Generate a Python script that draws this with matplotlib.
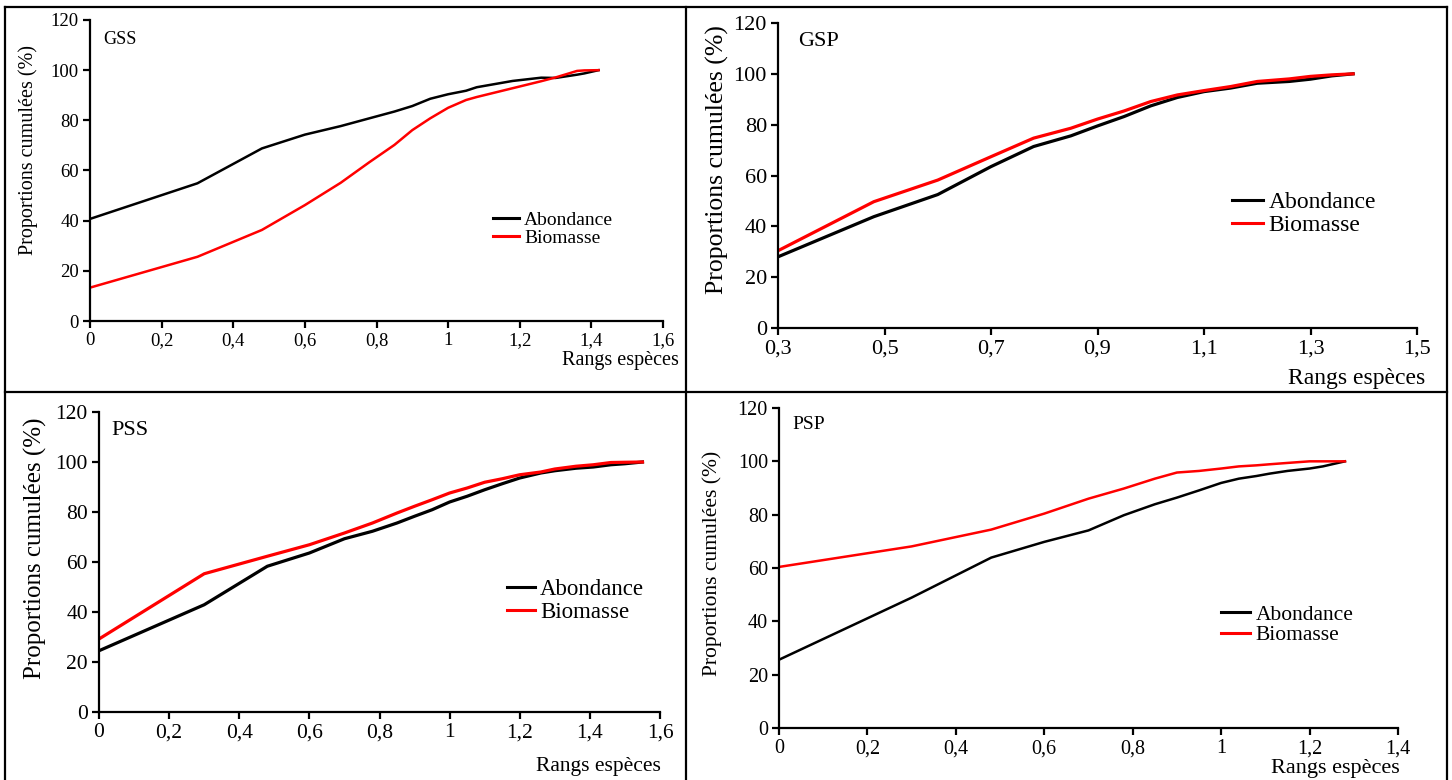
import matplotlib
matplotlib.use("Agg")
import matplotlib.pyplot as plt
from matplotlib.lines import Line2D
from matplotlib.ticker import FuncFormatter

plt.rcParams['font.family'] = ['Liberation Serif', 'DejaVu Serif']

W, H = 1452, 780

# GSS
gss_x = [0, 0.30, 0.48, 0.60, 0.70, 0.78, 0.85, 0.90, 0.95, 1.00, 1.05, 1.08, 1.18, 1.26, 1.30, 1.36, 1.38, 1.42]
gss_ab = [40.7, 54.9, 68.8, 74.3, 77.7, 80.8, 83.5, 85.7, 88.6, 90.4, 91.8, 93.2, 95.7, 97.0, 96.9, 98.2, 98.7, 100]
gss_bio = [13.3, 25.6, 36.3, 46.2, 55.1, 63.3, 70.2, 76.1, 80.8, 85.0, 88.1, 89.3, 92.8, 95.6, 97.1, 99.7, 99.9, 100]

# GSP
gsp_x = [0.30, 0.48, 0.60, 0.70, 0.78, 0.85, 0.90, 0.95, 1.00, 1.05, 1.10, 1.15, 1.20, 1.26, 1.30, 1.34, 1.38]
gsp_ab = [28.0, 43.8, 52.5, 63.5, 71.4, 75.6, 79.5, 83.2, 87.4, 90.7, 93.0, 94.4, 96.3, 97.0, 97.9, 99.2, 100]
gsp_bio = [30.4, 49.7, 58.2, 67.4, 74.7, 78.6, 82.2, 85.4, 89.1, 91.7, 93.4, 95.0, 97.0, 98.0, 99.0, 99.6, 100]

# PSS
pss_x = [0, 0.30, 0.48, 0.60, 0.70, 0.78, 0.85, 0.90, 0.95, 1.00, 1.05, 1.10, 1.15, 1.20, 1.26, 1.30, 1.36, 1.41, 1.46, 1.50, 1.55]
pss_ab = [24.5, 42.9, 58.3, 63.6, 69.3, 72.3, 75.6, 78.3, 80.9, 84.0, 86.3, 88.9, 91.3, 93.6, 95.6, 96.5, 97.5, 98.0, 98.9, 99.3, 100]
pss_bio = [29.2, 55.3, 62.3, 66.9, 71.6, 75.6, 79.6, 82.3, 84.9, 87.6, 89.6, 91.9, 93.3, 94.9, 96.0, 97.2, 98.3, 98.9, 99.8, 99.9, 100]

# PSP
psp_x = [0, 0.30, 0.48, 0.60, 0.70, 0.78, 0.85, 0.90, 0.95, 1.00, 1.04, 1.08, 1.11, 1.15, 1.20, 1.23, 1.28]
psp_ab = [25.6, 48.9, 63.9, 69.8, 74.1, 79.8, 83.9, 86.4, 89.1, 91.9, 93.5, 94.5, 95.4, 96.4, 97.3, 98.1, 100]
psp_bio = [60.4, 68.1, 74.4, 80.4, 86.0, 89.8, 93.5, 95.8, 96.4, 97.3, 98.1, 98.5, 98.9, 99.4, 100, 100, 100]

y_ticks = [0, 20, 40, 60, 80, 100, 120]
ylab = "Proportions cumulées (%)"
xlab = "Rangs espèces"
series_names = ["Abondance", "Biomasse"]

fig = plt.figure(figsize=(W / 100, H / 100), dpi=100)


def px_axes(left, right, top, bottom):
    return fig.add_axes([left / W, 1 - bottom / H, (right - left) / W, (bottom - top) / H])


def comma(v, pos):
    s = f"{v:.1f}".rstrip('0').rstrip('.')
    return s.replace('.', ',')


def panel(box, x, ab, bio, xlim, xticks, name, fs):
    # fs: tick, legend, name, xlabel, ylabel sizes + legend geometry
    ax = px_axes(*box)
    ax.plot(x, ab, color='black', lw=fs['lw'], label=series_names[0])
    ax.plot(x, bio, color='#ff0000', lw=fs['lw'], label=series_names[1])
    ax.set_xlim(*xlim)
    ax.set_ylim(0, 120)
    ax.set_xticks(xticks)
    ax.set_yticks(y_ticks)
    ax.xaxis.set_major_formatter(FuncFormatter(comma))
    for s in ['top', 'right']:
        ax.spines[s].set_visible(False)
    for s in ['left', 'bottom']:
        ax.spines[s].set_linewidth(1.6)
    ax.tick_params(direction='out', length=5, width=1.6, labelsize=fs['tick'], pad=3)
    ax.patch.set_alpha(0)
    leg = ax.legend(loc='center left', bbox_to_anchor=(fs['leg'][0] / W, 1 - fs['leg'][1] / H),
                    bbox_transform=fig.transFigure, frameon=False, fontsize=fs['legfs'],
                    handlelength=fs['hl'], handletextpad=0.25, borderpad=0, borderaxespad=0,
                    labelspacing=fs['ls'])
    for ln in leg.get_lines():
        ln.set_linewidth(2.2)
    fig.text(fs['name'][0] / W, 1 - fs['name'][1] / H, name, fontsize=fs['namefs'], ha='left', va='center')
    fig.text(fs['xl'][0] / W, 1 - fs['xl'][1] / H, xlab, fontsize=fs['xlfs'], ha='right', va='center')
    fig.text(fs['yl'][0] / W, 1 - fs['yl'][1] / H, ylab, fontsize=fs['ylfs'], ha='center', va='center', rotation=90)
    return ax


panel((90, 663, 20, 321), gss_x, gss_ab, gss_bio, (0, 1.6), [0, 0.2, 0.4, 0.6, 0.8, 1.0, 1.2, 1.4, 1.6], "GSS",
      dict(lw=1.8, tick=13.5, leg=(493, 229), legfs=14, hl=1.35, ls=0.0, name=(103, 39), namefs=13,
           xl=(679, 360), xlfs=14.5, yl=(28, 150), ylfs=14.5))
panel((778, 1417, 23, 328), gsp_x, gsp_ab, gsp_bio, (0.3, 1.5), [0.3, 0.5, 0.7, 0.9, 1.1, 1.3, 1.5], "GSP",
      dict(lw=2.3, tick=16, leg=(1232, 214), legfs=17, hl=1.3, ls=0.08, name=(798, 41), namefs=16,
           xl=(1425, 378), xlfs=17, yl=(717, 160), ylfs=18.5))
panel((99, 660, 412, 712), pss_x, pss_ab, pss_bio, (0, 1.6), [0, 0.2, 0.4, 0.6, 0.8, 1.0, 1.2, 1.4, 1.6], "PSS",
      dict(lw=2.3, tick=15.5, leg=(507, 601), legfs=16.5, hl=1.2, ls=0.05, name=(111, 430), namefs=16,
           xl=(661, 766), xlfs=15.5, yl=(35, 548), ylfs=18))
panel((779, 1398, 408, 728), psp_x, psp_ab, psp_bio, (0, 1.4), [0, 0.2, 0.4, 0.6, 0.8, 1.0, 1.2, 1.4], "PSP",
      dict(lw=1.8, tick=14.5, leg=(1221, 625), legfs=15.5, hl=1.35, ls=0.0, name=(792, 425), namefs=14,
           xl=(1400, 768), xlfs=16, yl=(712, 563), ylfs=15.5))

# table grid round the four panels
def fline(x0, y0, x1, y1):
    fig.add_artist(Line2D([x0 / W, x1 / W], [1 - y0 / H, 1 - y1 / H], transform=fig.transFigure,
                          color='black', lw=1.6))

fline(5, 7, 1447, 7)
fline(5, 7, 5, 780)
fline(1447, 7, 1447, 780)
fline(686, 7, 686, 780)
fline(5, 392, 1447, 392)

fig.savefig("out.png", dpi=100)
